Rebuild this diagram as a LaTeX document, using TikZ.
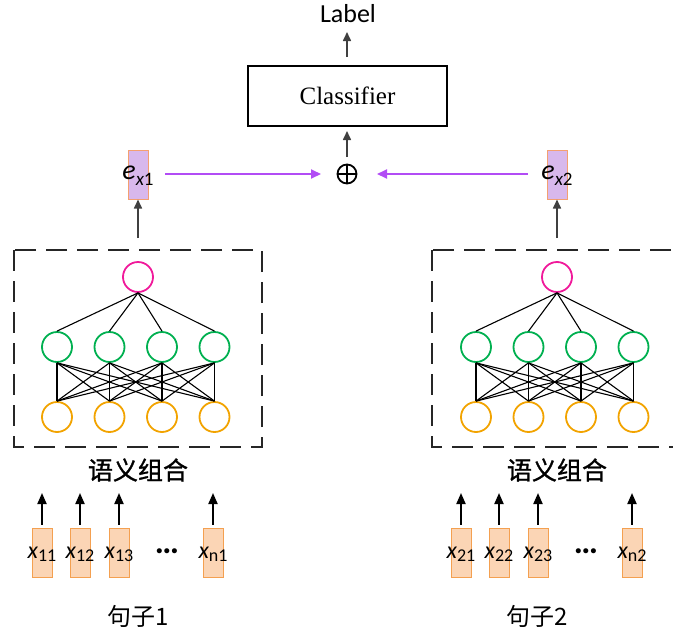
\documentclass[tikz,border=0pt]{standalone}
\usepackage{fontspec}
\setmainfont{Liberation Serif}
\newfontfamily\calfont{Carlito}
\newfontfamily\cjk{Noto Sans CJK SC}
\newfontfamily\cjkb[FakeBold=1.2]{Noto Sans CJK SC}
\usetikzlibrary{arrows.meta}
\definecolor{pk}{HTML}{F0199A}
\definecolor{gn}{HTML}{00B050}
\definecolor{og}{HTML}{F2A300}
\definecolor{pfill}{HTML}{D8B8EC}
\definecolor{pedge}{HTML}{F4A070}
\definecolor{xfill}{HTML}{FBD5B5}
\definecolor{xedge}{HTML}{F4A050}
\definecolor{parrow}{HTML}{B24CF5}
\definecolor{dgray}{HTML}{404040}
\begin{document}
\begin{tikzpicture}[x=1pt,y=-1pt,
  neuron/.style={circle,draw,line width=1.8pt,minimum size=30pt,inner sep=0pt},
  topn/.style={neuron,draw=pk},
  hidn/.style={neuron,draw=gn},
  inn/.style={neuron,draw=og},
  link/.style={line width=1.1pt,black},
  upgray/.style={dgray,line width=1.6pt,-{Triangle[length=9pt,width=8pt]}},
  upblack/.style={black,line width=2pt,-{Triangle[length=11pt,width=9pt]}},
  parr/.style={parrow,line width=2pt,-{Triangle[length=10pt,width=9pt]}},
  ebox/.style={rectangle,draw=pedge,fill=pfill,line width=1pt,minimum width=20pt,minimum height=49pt,inner sep=0pt},
  xbox/.style={rectangle,draw=xedge,fill=xfill,line width=1pt,minimum width=20pt,minimum height=49pt,inner sep=0pt},
  xlab/.style={font=\calfont\fontsize{24}{26}\selectfont\itshape,inner sep=0pt},
  elab/.style={font=\calfont\fontsize{28}{30}\selectfont\itshape,inner sep=0pt},
  cjktext/.style={font=\cjk\fontsize{24}{26}\selectfont,inner sep=0pt},
  dbox/.style={dash pattern=on 21pt off 10pt,line width=1.6pt,black!85},
  dotstyle/.style={font=\calfont\bfseries\fontsize{34}{36}\selectfont,inner sep=0pt}
]
\useasboundingbox (0,0) rectangle (673,635);

% top part
\node[font=\calfont\fontsize{26}{28}\selectfont,inner sep=0pt] (label) at (348,14) {Label};
\node[draw,line width=1.4pt,minimum width=199pt,minimum height=60pt,inner sep=0pt,font=\fontsize{25}{27}\selectfont] (cls) at (347.5,96) {Classifier};
\node[circle,draw,line width=1.8pt,minimum size=19pt,inner sep=0pt] (plus) at (347,174) {};
\draw[line width=1.8pt] (plus.north) -- (plus.south) (plus.west) -- (plus.east);
\draw[upgray] (347,57) coordinate (c1) -- (347,32) coordinate (c2);
\draw[upgray] (347,157) coordinate (p1) -- (347,131) coordinate (p2);

\node[ebox] (e1) at (138,174.5) {};
\node[elab] (e1t) at (138,176) {e\raisebox{-0.22em}{\fontsize{19}{21}\selectfont x\upshape 1}};
\node[ebox] (e2) at (557,174.5) {};
\node[elab] (e2t) at (557,176) {e\raisebox{-0.22em}{\fontsize{19}{21}\selectfont x\upshape 2}};

\coordinate (a1s) at (165,174);
\coordinate (a1e) at (321,174);
\coordinate (a2s) at (528,174);
\coordinate (a2e) at (377,174);
\draw[parr] (a1s) -- (a1e);
\draw[parr] (a2s) -- (a2e);

% networks
\foreach \s/\dx in {1/0,2/419}{
  \begin{scope}[xshift=\dx pt]
  \node[topn] (t\s) at (138,277) {};
  \foreach \i/\xx in {1/57,2/109.5,3/162,4/214.5}{
    \node[hidn] (g\s\i) at (\xx,347) {};
    \node[inn] (o\s\i) at (\xx,417) {};
  }
  \foreach \i in {1,...,4}{
    \draw[link] (t\s.south) -- (g\s\i.north);
    \foreach \j in {1,...,4}{
      \draw[link] (g\s\i.south) -- (o\s\j.north);
    }
  }
  \node[inner sep=0pt,font=\cjkb\fontsize{25}{27}\selectfont] (sem\s) at (138,470) {语义组合};
  \coordinate (boxtop\s) at (138,238);
  \end{scope}
}
\draw[upgray] (boxtop1) -- (e1.south);
\draw[upgray] (boxtop2) -- (e2.south);

\begin{scope}
\clip (0,0) rectangle (673,635);
\draw[dbox] (14,250) rectangle (262,447);
\draw[dbox] (432,250) rectangle (680,447);
\end{scope}

% inputs sentence 1
\foreach \n/\xx/\sub in {11/42/11,12/80/12,13/119/13,n1/213/n1}{
  \node[xbox] (x\n) at (\xx,552.5) {};
  \node[xlab] (x\n t) at (\xx,554) {x\raisebox{-0.12em}{\upshape\fontsize{18}{20}\selectfont \sub}};
  \coordinate (x\n a) at (\xx,493);
  \draw[upblack] (x\n.north) ++(0,-3) -- (x\n a);
}
\node[dotstyle] (dots1) at (167,551) {…};
\node[cjktext] (s1) at (138,616) {句子1};

% inputs sentence 2
\foreach \n/\xx/\sub in {21/461/21,22/499/22,23/538/23,n2/632/n2}{
  \node[xbox] (x\n) at (\xx,552.5) {};
  \node[xlab] (x\n t) at (\xx,554) {x\raisebox{-0.12em}{\upshape\fontsize{18}{20}\selectfont \sub}};
  \coordinate (x\n a) at (\xx,493);
  \draw[upblack] (x\n.north) ++(0,-3) -- (x\n a);
}
\node[dotstyle] (dots2) at (586,551) {…};
\node[cjktext] (s2) at (537,616) {句子2};
\end{tikzpicture}
\end{document}
